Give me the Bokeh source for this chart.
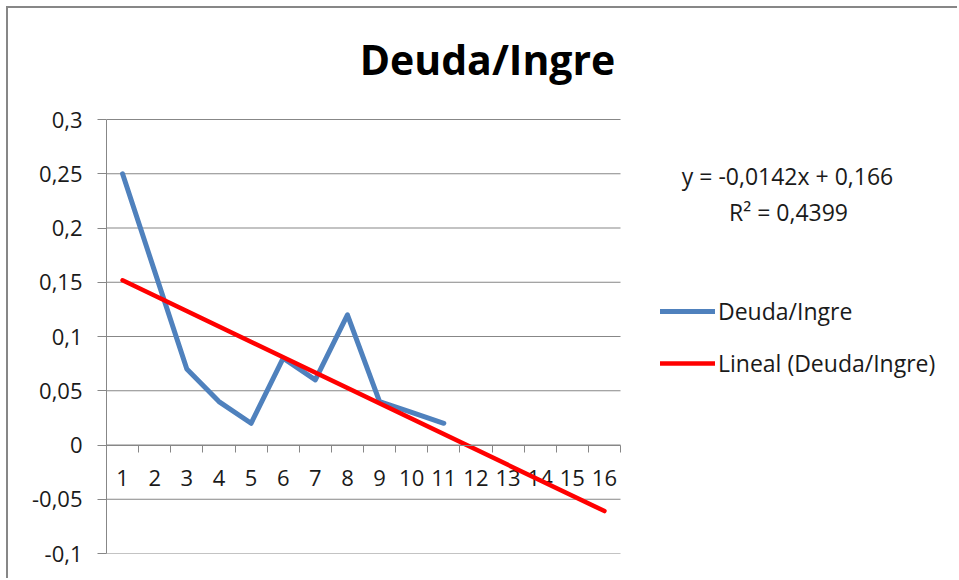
import numpy as np
from bokeh.plotting import figure
from bokeh.models import (Range1d, FixedTicker, LinearAxis, CustomJSTickFormatter,
                          Label, Legend, LegendItem, ColumnDataSource)
from bokeh.core.properties import value
from bokeh.embed import file_html
from bokeh.resources import INLINE

# ---- data ----
title_text = "Deuda/Ingre"
series_name = "Deuda/Ingre"
trend_name = "Lineal (Deuda/Ingre)"
categories = [str(i) for i in range(1, 17)]
series_values = [0.25, 0.16, 0.07, 0.04, 0.02, 0.08, 0.06, 0.12, 0.04, 0.03, 0.02]
y_ticks = [-0.1, -0.05, 0.0, 0.05, 0.1, 0.15, 0.2, 0.25, 0.3]
y_tick_labels = ["-0,1", "-0,05", "0", "0,05", "0,1", "0,15", "0,2", "0,25", "0,3"]
equation_text = "y = -0,0142x + 0,166"
r2_text = "R² = 0,4399"

FONT = "Open Sans"
GRAY = "#878787"
TXT = "#1a1a1a"
FS = "22px"
FS2 = "23px"

n_cat = len(categories)
xs = np.arange(1, len(series_values) + 1)
slope, intercept = np.polyfit(xs, series_values, 1)
trend_x = np.array([1, n_cat])
trend_y = slope * trend_x + intercept

# layout (pixels): plot area of the categories is 514 px wide, 434 px tall
W, H = 951, 572
left, bottom_b = 98, 27
cat_px = 514 / n_cat
unit_px = 434 / (y_ticks[-1] - y_ticks[0])
frame_w = W - left
frame_h = H - bottom_b
x_end = 0.5 + frame_w / cat_px
y_end = y_ticks[0] + frame_h / unit_px

p = figure(width=W, height=H, output_backend="svg", toolbar_location=None,
           x_range=Range1d(0.5, x_end), y_range=Range1d(y_ticks[0], y_end),
           min_border_left=left, min_border_right=0, min_border_top=0, min_border_bottom=bottom_b,
           x_axis_type=None, y_axis_type=None)
p.outline_line_color = None
p.background_fill_color = "white"
p.border_fill_color = "white"
p.styles = {"margin-left": "6px", "margin-top": "6px",
            "border-top": "2px solid #878787", "border-left": "2px solid #878787"}

# horizontal grid lines over the category area
p.segment(x0=[0.5] * len(y_ticks), x1=[n_cat + 0.5] * len(y_ticks), y0=y_ticks, y1=y_ticks,
          line_color=GRAY, line_width=1)

# y axis
yaxis = LinearAxis(ticker=FixedTicker(ticks=y_ticks), bounds=(y_ticks[0], y_ticks[-1]),
                   formatter=CustomJSTickFormatter(args=dict(t=y_ticks, l=y_tick_labels), code="""
                       let best = 0;
                       for (let i = 0; i < t.length; i++) {
                           if (Math.abs(t[i] - tick) < Math.abs(t[best] - tick)) best = i;
                       }
                       return l[best];
                   """))
yaxis.axis_line_color = GRAY
yaxis.major_tick_line_color = GRAY
yaxis.major_tick_out = 9
yaxis.major_tick_in = 0
yaxis.minor_tick_line_color = None
yaxis.major_label_standoff = 15
yaxis.major_label_text_font = FONT
yaxis.major_label_text_font_size = FS
yaxis.major_label_text_color = TXT
p.add_layout(yaxis, "left")

# x axis at y = 0 with ticks at category boundaries
bounds = [i + 0.5 for i in range(1, n_cat + 1)]
xaxis = LinearAxis(ticker=FixedTicker(ticks=bounds), fixed_location=0, bounds=(0.5, n_cat + 0.5),
                   formatter=CustomJSTickFormatter(code="return ''"))
xaxis.axis_line_color = GRAY
xaxis.major_tick_line_color = GRAY
xaxis.major_tick_out = 7
xaxis.major_tick_in = 0
xaxis.minor_tick_line_color = None
xaxis.major_label_text_font_size = "0px"
xaxis.major_label_standoff = 0
p.add_layout(xaxis, "below")

# category labels
cat_src = ColumnDataSource(dict(x=list(range(1, n_cat + 1)), y=[0] * n_cat, t=categories))
p.text(x="x", y="y", text="t", source=cat_src, y_offset=33, text_align="center",
       text_baseline="middle", text_font=value(FONT), text_font_size=FS, text_color=TXT)

# series
r_series = p.line(xs, series_values, line_color="#4F81BD", line_width=5,
                  line_join="round", line_cap="round")
r_trend = p.line(trend_x, trend_y, line_color="#FF0000", line_width=4.5, line_cap="round")

legend = Legend(items=[LegendItem(label=series_name, renderers=[r_series]),
                       LegendItem(label=trend_name, renderers=[r_trend])],
                location=(554, 174), padding=0, margin=0, spacing=20,
                glyph_width=55, glyph_height=20, label_height=20, label_standoff=3,
                border_line_alpha=0, background_fill_alpha=0,
                label_text_font=FONT, label_text_font_size=FS2, label_text_color=TXT)
p.add_layout(legend, "center")

# title and equation (screen px from the plot frame's bottom-left)
p.add_layout(Label(x=381, y=495, x_units="screen", y_units="screen", text=title_text,
                   text_font=FONT, text_font_style="bold", text_font_size="41px",
                   text_align="center", text_baseline="middle", text_color="#000000"))
p.add_layout(Label(x=681, y=378, x_units="screen", y_units="screen", text=equation_text,
                   text_font=FONT, text_font_size=FS2, text_align="center",
                   text_baseline="middle", text_color=TXT))
p.add_layout(Label(x=682, y=342, x_units="screen", y_units="screen", text=r2_text,
                   text_font=FONT, text_font_size=FS2, text_align="center",
                   text_baseline="middle", text_color=TXT))

open("out.html", "w").write(file_html(p, INLINE))
